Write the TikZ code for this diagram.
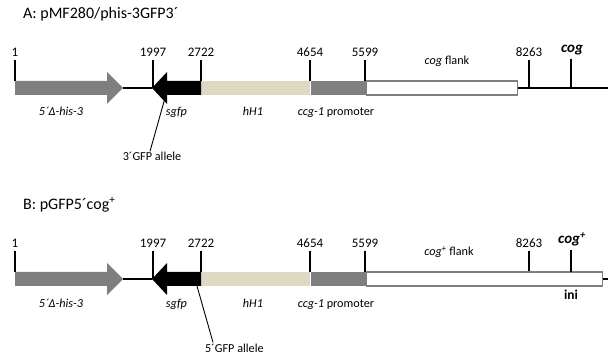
\documentclass[tikz,border=0pt]{standalone}
\usepackage{fontspec}
\setmainfont{Carlito}
\usepackage{tikz}
\usetikzlibrary{positioning}

\definecolor{genegray}{HTML}{7F7F7F}
\definecolor{hbeige}{HTML}{DDD9C3}

\begin{document}
\begin{tikzpicture}[
    x=1pt, y=-1pt,
    every node/.style={font=\fontsize{12.2}{14}\selectfont, inner sep=1pt},
    title/.style={font=\fontsize{16}{18}\selectfont, anchor=base west},
    num/.style={font=\fontsize{13}{15}\selectfont, anchor=south},
    locus/.style={font=\fontsize{15}{17}\selectfont\bfseries\itshape, anchor=base},
    gene/.style={anchor=base},
    segment/.style={rectangle, minimum height=14pt, inner sep=0pt},
    backbone/.style={line width=1.4pt},
    tick/.style={line width=1.4pt, shorten <=2pt},
    leader/.style={line width=0.9pt}
]
\useasboundingbox (0,0) rectangle (608,358);

% ---------------- A: pMF280/phis-3GFP3´ ----------------
\node[title] (titleA) at (22,18.5) {A: pMF280/phis-3GFP3´};

% Segments
\node[segment, fill=hbeige, minimum width=109pt, anchor=west] (hhA) at (201,88) {};
\node[segment, fill=genegray, minimum width=55pt, right=0pt of hhA] (ccgA) {};
\node[segment, draw=genegray, line width=1.3pt, fill=white, minimum width=151pt, right=0pt of ccgA] (flankA) {};
\coordinate (endA) at (608,88);
\coordinate (cogA) at (571,88);

% Gene arrows
\fill[genegray] (15,81) -- (107,81) -- (107,72) -- (123,88) -- (107,104) -- (107,95) -- (15,95) -- cycle;
\coordinate (hisA) at (123,88);
\fill[black] (201,81) -- (167,81) -- (167,72) -- (152,88) -- (167,104) -- (167,95) -- (201,95) -- cycle;
\coordinate (sgfpA) at (152,88);
\coordinate (gfpcutA) at (165,98);

% Backbone
\draw[backbone] (hisA) -- (sgfpA);
\draw[backbone] (flankA.east) -- (endA);

% Positions
\node[num] (t1A) at (15,57.7) {1};
\node[num] (t1997A) at (153,57.7) {1997};
\node[num] (t2722A) at (201,57.7) {2722};
\node[num] (t4654A) at (310,57.7) {4654};
\node[num] (t5599A) at (365,57.7) {5599};
\node[num] (t8263A) at (529,57.7) {8263};
\node[locus] (tcogA) at (572,53) {cog};
\draw[tick] (t1A.south) -- (t1A.south |- hhA.north);
\draw[tick] (t1997A.south) -- (t1997A.south |- sgfpA);
\draw[tick] (t2722A.south) -- (t2722A.south |- hhA.north);
\draw[tick] (t4654A.south) -- (t4654A.south |- hhA.north);
\draw[tick] (t5599A.south) -- (t5599A.south |- hhA.north);
\draw[tick] (t8263A.south) -- (t8263A.south |- endA);
\draw[tick] (tcogA.south -| cogA) -- (cogA);

% Labels
\node[gene] (hislA) at (61,116) {\itshape 5´Δ-his-3};
\node[gene] (sgfplA) at (176.5,116) {\itshape sgfp};
\node[gene] (hhlA) at (253,116) {\itshape hH1};
\node[gene] (ccglA) at (336,116) {\textit{ccg-1} promoter};
\node[gene] (flanklA) at (447,65) {\textit{cog} flank};

% Allele
\node[gene] (alleleA) at (152,161) {3´GFP allele};
\draw[leader] (gfpcutA) -- ([xshift=-2pt]alleleA.north);

% ---------------- B: pGFP5´cog+ ----------------
\node[title] (titleB) at (22,209.5) {B: pGFP5´cog\textsuperscript{+}};

% Segments
\node[segment, fill=hbeige, minimum width=109pt, anchor=west] (hhB) at (201,279) {};
\node[segment, fill=genegray, minimum width=55pt, right=0pt of hhB] (ccgB) {};
\node[segment, draw=genegray, line width=1.3pt, fill=white, minimum width=236pt, right=0pt of ccgB] (flankB) {};
\coordinate (endB) at (608,279);
\coordinate (cogB) at (571,272);

% Gene arrows
\fill[genegray] (15,272) -- (107,272) -- (107,263) -- (123,279) -- (107,295) -- (107,286) -- (15,286) -- cycle;
\coordinate (hisB) at (123,279);
\fill[black] (201,272) -- (167,272) -- (167,263) -- (152,279) -- (167,295) -- (167,286) -- (201,286) -- cycle;
\coordinate (sgfpB) at (152,279);
\coordinate (gfpcutB) at (197,286);

% Backbone
\draw[backbone] (hisB) -- (sgfpB);
\draw[backbone] (flankB.east) -- (endB);

% Positions
\node[num] (t1B) at (15,248.7) {1};
\node[num] (t1997B) at (153,248.7) {1997};
\node[num] (t2722B) at (201,248.7) {2722};
\node[num] (t4654B) at (310,248.7) {4654};
\node[num] (t5599B) at (365,248.7) {5599};
\node[num] (t8263B) at (529,248.7) {8263};
\node[locus] (tcogB) at (572,244) {cog\textsuperscript{+}};
\draw[tick] (t1B.south) -- (t1B.south |- hhB.north);
\draw[tick] (t1997B.south) -- (t1997B.south |- sgfpB);
\draw[tick] (t2722B.south) -- (t2722B.south |- hhB.north);
\draw[tick] (t4654B.south) -- (t4654B.south |- hhB.north);
\draw[tick] (t5599B.south) -- (t5599B.south |- hhB.north);
\draw[tick] (t8263B.south) -- (t8263B.south |- flankB.north);
\draw[tick] (tcogB.south -| cogB) -- (cogB);

% Labels
\node[gene] (hislB) at (61,307) {\itshape 5´Δ-his-3};
\node[gene] (sgfplB) at (176.5,307) {\itshape sgfp};
\node[gene] (hhlB) at (253,307) {\itshape hH1};
\node[gene] (ccglB) at (336,307) {\textit{ccg-1} promoter};
\node[gene] (flanklB) at (449,256) {\textit{cog}\textsuperscript{+} flank};
\node[gene, font=\fontsize{13.5}{15}\selectfont\bfseries] (iniB) at (571,299) {ini};

% Allele
\node[gene, anchor=base west] (alleleB) at (204,352) {5´GFP allele};
\draw[leader] (gfpcutB) -- ([xshift=9pt]alleleB.north west);

\end{tikzpicture}
\end{document}
